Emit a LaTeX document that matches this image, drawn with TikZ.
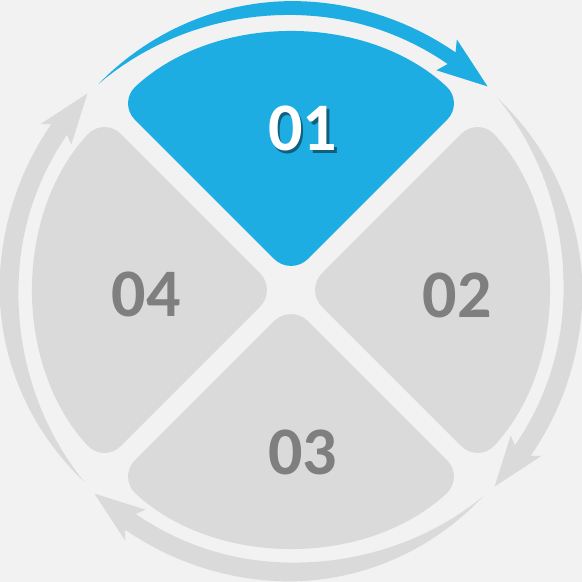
\documentclass[tikz,border=0pt]{standalone}
\usepackage{fontspec}
\setmainfont{Carlito}
\usetikzlibrary{positioning}

\definecolor{cyclebg}{HTML}{F2F2F2}
\definecolor{cyclegray}{HTML}{DADADA}
\definecolor{cycleblue}{HTML}{1EADE2}
\definecolor{cycletext}{HTML}{7F7F7F}
\colorlet{cycleshade}{cycleblue!55!black}

\begin{document}
\begin{tikzpicture}[
        x=1pt, y=-1pt,
        petal/.style={rounded corners=24pt},
        num/.style={font=\fontsize{68}{68}\selectfont\bfseries, text=cycletext, inner sep=0pt}
    ]
    \fill[cyclebg] (0,0) rectangle (582,582);
    \useasboundingbox (0,0) rectangle (582,582);

    \begin{scope}[shift={(291,290)}, yscale=-1]
        % the four quarters
        \foreach \a/\col in {90/cycleblue, 0/cyclegray, -90/cyclegray, 180/cyclegray}
            \fill[\col, petal] (\a:14.14) -- (\a+42.75:255)
                arc[start angle=\a+42.75, end angle=\a-42.75, radius=255] -- cycle;

        % tapered arrows round the ring
        \foreach \a/\col/\tm in {45/cyclegray/19, -45/cyclegray/19, -135/cyclegray/19, 135/cycleblue/14}
            \fill[\col] plot[domain=0:0.984, samples=40, variable=\u]
                    ({\a-2-79*\u}:{282+0.5*\tm*sin(90*min(1,\u/0.6))})
                -- (\a-78.5:300.5) -- (\a-89:283) -- (\a-78.5:263.5)
                -- plot[domain=0.984:0, samples=40, variable=\u]
                    ({\a-2-79*\u}:{282-0.5*\tm*sin(90*min(1,\u/0.6))}) -- cycle;
    \end{scope}

    \node[num, text=white] (first) at (302.5,130)
        {\rlap{\kern2.5pt\raisebox{-2.5pt}{\textcolor{cycleshade}{01}}}01};
    \node[num] (second) at (457,295) {02};
    \node[num] (third) at (302.5,452) {03};
    \node[num] (fourth) at (146,294) {04};
\end{tikzpicture}
\end{document}
